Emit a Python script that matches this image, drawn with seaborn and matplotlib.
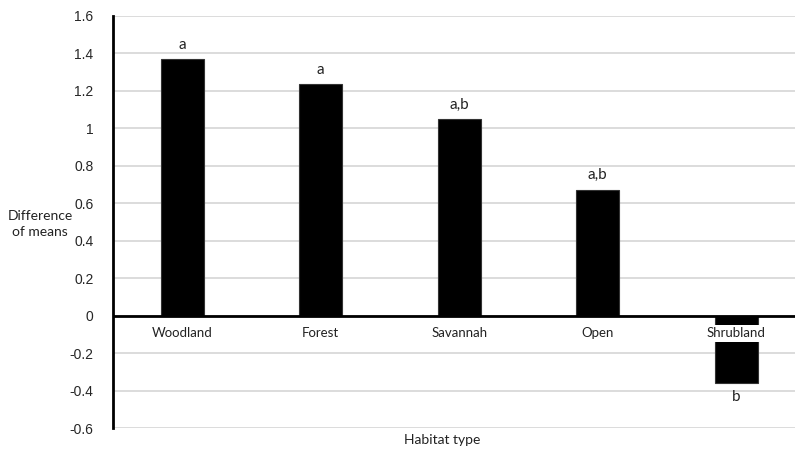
import pandas as pd
import matplotlib
matplotlib.use('Agg')
import matplotlib.pyplot as plt
import seaborn as sns

# dados
habitats = ['Woodland', 'Forest', 'Savannah', 'Open', 'Shrubland']
diferencas = [1.37, 1.235, 1.05, 0.672, -0.362]
letras = ['a', 'a', 'a,b', 'a,b', 'b']
ticks_y = [-0.6, -0.4, -0.2, 0, 0.2, 0.4, 0.6, 0.8, 1, 1.2, 1.4, 1.6]
tick_labels_y = ['-0.6', '-0.4', '-0.2', '0', '0.2', '0.4', '0.6', '0.8', '1', '1.2', '1.4', '1.6']

sns.set_style('white')
plt.rcParams['font.family'] = ['Lato', 'DejaVu Sans']

df = pd.DataFrame({'Habitat': habitats, 'Diferenca': diferencas})

fig = plt.figure(figsize=(7.95, 4.5), dpi=100)
ax = fig.add_axes([113/795, 22/450, 682/795, 412/450])

sns.barplot(data=df, x='Habitat', y='Diferenca', color='black', width=0.31,
            edgecolor='#333333', linewidth=0.8, ax=ax, zorder=3, saturation=1)

ax.set_ylim(-0.6, 1.6)
ax.set_xlim(-0.5, 4.424)
ax.set_yticks(ticks_y)
ax.set_yticklabels(tick_labels_y, fontfamily='Liberation Sans', fontsize=10)
ax.tick_params(axis='y', length=0, pad=14)
ax.grid(axis='y', color='#d9d9d9', linewidth=1.3, zorder=0)
ax.axhline(0, color='black', linewidth=2, zorder=4)
for s in ['top', 'right', 'bottom']:
    ax.spines[s].set_visible(False)
ax.spines['left'].set_color('black')
ax.spines['left'].set_linewidth(2)

ax.set_xticks([])
ax.set_xlabel('')
ax.set_ylabel('')

# rótulos das categorias sobre a linha do zero
for i, nome in enumerate(habitats):
    bbox = None
    if diferencas[i] < 0:
        bbox = dict(facecolor='white', edgecolor='none', pad=2)
    ax.text(i, -0.095, nome, ha='center', va='center', fontsize=9.5,
            color='#222222', bbox=bbox, zorder=5)

# letras de significância
for i, (v, l) in enumerate(zip(diferencas, letras)):
    if v >= 0:
        ax.text(i, v + 0.04, l, ha='center', va='bottom', fontsize=11, color='#222222')
    else:
        ax.text(i, v - 0.035, l, ha='center', va='top', fontsize=11, color='#222222')

fig.text(40/795, 1 - 224/450, 'Difference\nof means', ha='center', va='center',
         fontsize=10, color='#222222', linespacing=1.4)
fig.text(442/795, 1 - 440/450, 'Habitat type', ha='center', va='center',
         fontsize=10, color='#222222')

fig.savefig('out.png', dpi=100)
